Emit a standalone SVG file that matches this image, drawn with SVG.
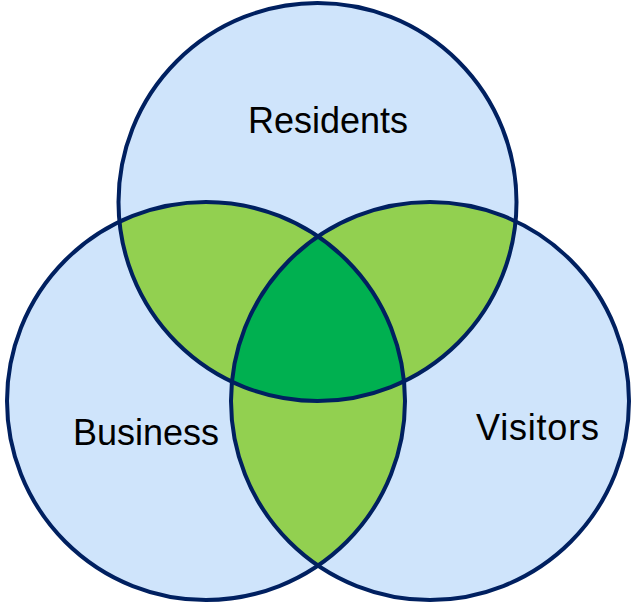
<svg xmlns="http://www.w3.org/2000/svg" width="633" height="603" viewBox="0 0 633 603">
<style>
.fill{fill:#CFE4FB;stroke:none}
.pair{fill:#92D050;stroke:none}
.core{fill:#00B050;stroke:none}
.ring{fill:none;stroke:#002060;stroke-width:4}
.lbl{font-family:"Liberation Sans",Arial,sans-serif;font-size:36px;fill:#000}
</style>
<defs>
<clipPath id="cTop"><circle cx="317.5" cy="202" r="199"/></clipPath>
<clipPath id="cLeft"><circle cx="206" cy="401" r="199"/></clipPath>
<clipPath id="cRight"><circle cx="430" cy="401" r="199"/></clipPath>
</defs>
<rect width="633" height="603" fill="#fff"/>
<g id="residents"><circle class="fill" cx="317.5" cy="202" r="199"/></g>
<g id="business"><circle class="fill" cx="206" cy="401" r="199"/></g>
<g id="visitors"><circle class="fill" cx="430" cy="401" r="199"/></g>
<g id="overlaps">
<circle class="pair" cx="206" cy="401" r="199" clip-path="url(#cTop)"/>
<circle class="pair" cx="430" cy="401" r="199" clip-path="url(#cTop)"/>
<circle class="pair" cx="430" cy="401" r="199" clip-path="url(#cLeft)"/>
<g clip-path="url(#cTop)"><circle class="core" cx="430" cy="401" r="199" clip-path="url(#cLeft)"/></g>
</g>
<g id="outlines">
<circle class="ring" cx="317.5" cy="202" r="199"/>
<circle class="ring" cx="206" cy="401" r="199"/>
<circle class="ring" cx="430" cy="401" r="199"/>
</g>
<g id="labels">
<text class="lbl" x="248" y="133">Residents</text>
<text class="lbl" x="73" y="445">Business</text>
<text class="lbl" x="476" y="440" letter-spacing="0.8">Visitors</text>
</g>
</svg>
